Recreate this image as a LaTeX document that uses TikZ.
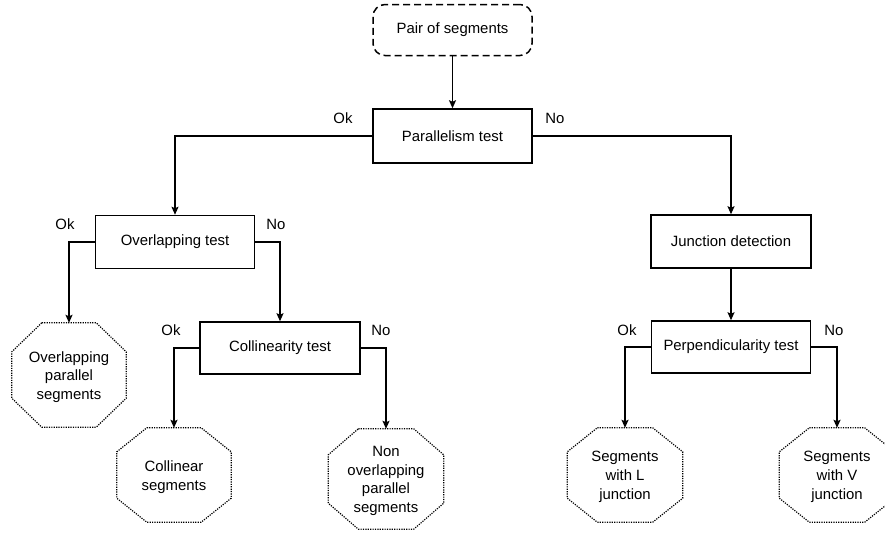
\documentclass[tikz,border=0pt]{standalone}
\usepackage{fontspec}
\setmainfont{Liberation Sans}
\usetikzlibrary{arrows.meta,calc}
\newcommand\octdraw[2]{%
  \draw[octline] ($(#1.north west)+(30,0)$) -- ($(#1.north east)+(-30,0)$)
    -- ($(#1.north east)+(0,#2)$) -- ($(#1.south east)+(0,-#2)$)
    -- ($(#1.south east)+(-30,0)$) -- ($(#1.south west)+(30,0)$)
    -- ($(#1.south west)+(0,-#2)$) -- ($(#1.north west)+(0,#2)$) -- cycle;}
\begin{document}
\begin{tikzpicture}[x=1pt,y=-1pt,
  every node/.style={font=\fontsize{14.9}{18.7}\selectfont},
  procbox/.style={draw,line width=1.5pt,minimum width=159pt,minimum height=53pt,inner sep=0pt},
  startbox/.style={draw,line width=1.5pt,dash pattern=on 7pt off 4pt,rounded corners=12pt,minimum width=159pt,minimum height=51pt,inner sep=0pt},
  octnode/.style={align=center,inner sep=0pt,minimum width=114pt},
  octline/.style={line width=1.2pt,dash pattern=on 1.2pt off 1.2pt},
  lbl/.style={inner sep=0pt},
  arr/.style={line width=1.5pt,-{Stealth[length=8pt,width=7pt,inset=1.5pt]}}]
\useasboundingbox (0,0) rectangle (885,538);
% process boxes
\node[startbox] (pair) at (452.5,30) {Pair of segments};
\node[procbox,minimum height=54pt] (par) at (452.5,136) {Parallelism test};
\node[procbox] (ovl) at (175,242) {Overlapping test};
\node[procbox,minimum width=160pt] (jun) at (731,241.5) {Junction detection};
\node[procbox,minimum width=160pt,minimum height=52pt] (col) at (280,348) {Collinearity test};
\node[procbox,minimum height=52pt] (per) at (731,347) {Perpendicularity test};
% terminal octagons
\node[octnode,minimum height=104pt] (o1) at (69,375) {};
\node[octnode,minimum height=94pt] (o2) at (174,475) {};
\node[octnode,minimum width=115pt,minimum height=100pt] (o3) at (386,479) {};
\node[octnode,minimum width=115pt,minimum height=94pt] (o4) at (625,475) {};
\node[octnode,minimum width=115pt,minimum height=94pt] (o5) at (837,475) {};
\node[align=center,inner sep=0pt] (t1) at ([yshift=-2pt]o1.center) {Overlapping\\parallel\\segments};
\node[align=center,inner sep=0pt] (t2) at ([yshift=-2pt]o2.center) {Collinear\\segments};
\node[align=center,inner sep=0pt] (t3) at ([yshift=-2pt]o3.center) {Non\\overlapping\\parallel\\segments};
\node[align=center,inner sep=0pt] (t4) at ([yshift=-2pt]o4.center) {Segments\\with L\\junction};
\node[align=center,inner sep=0pt] (t5) at ([yshift=-2pt]o5.center) {Segments\\with V\\junction};
\octdraw{o1}{29}
\octdraw{o2}{24}
\octdraw{o3}{26}
\octdraw{o4}{24}
\octdraw{o5}{24}
% labels
\node[lbl] (l1) at (343,118) {Ok};
\node[lbl] (l2) at (555,118) {No};
\node[lbl] (l3) at (65,224) {Ok};
\node[lbl] (l4) at (276,224) {No};
\node[lbl] (l5) at (171,330) {Ok};
\node[lbl] (l6) at (381,330) {No};
\node[lbl] (l7) at (627,330) {Ok};
\node[lbl] (l8) at (834,330) {No};
% connectors
\draw[arr] (pair) -- (par);
\draw[arr] (par.west) -| (ovl.north);
\draw[arr] (par.east) -| (jun.north);
\draw[arr] (ovl.west) -| (o1.north);
\draw[arr] (ovl.east) -| (col.north);
\draw[arr] (col.west) -| (o2.north);
\draw[arr] (col.east) -| (o3.north);
\draw[arr] (jun) -- (per);
\draw[arr] (per.west) -| (o4.north);
\draw[arr] (per.east) -| (o5.north);
\end{tikzpicture}
\end{document}
